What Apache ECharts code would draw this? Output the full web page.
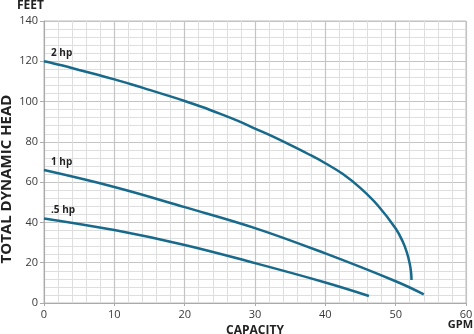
<!DOCTYPE html>
<html>
<head>
<meta charset="utf-8">
<script src="https://cdn.jsdelivr.net/npm/echarts@6/dist/echarts.min.js"></script>
<style>
  html, body { margin: 0; padding: 0; background: #fff; }
  #chart { width: 474px; height: 334px; }
</style>
</head>
<body>
<div id="chart"></div>
<script>
// Pump performance curves: head (ft) vs capacity (GPM)
const hp2Flow = [0, 2.5, 5, 7.5, 10, 12.5, 15, 17.5, 20, 22.5, 25, 27.5, 30, 32.5, 35, 37.5, 40,
                 42.5, 45, 47.5, 50, 51, 51.6, 52, 52.2, 52.25];
const hp2Head = [120, 118, 115.7, 113.4, 111, 108.5, 105.8, 103.1, 100.3, 97.3, 94, 90.5, 86.6, 82.7, 78.5, 74.1, 69.4,
                 64, 57, 48.3, 37, 30.5, 25, 19.5, 15, 11.4];

const hp1Flow = [0, 10, 20, 30, 40, 50, 54];
const hp1Head = [66, 57.6, 47.6, 37.2, 24.6, 10.8, 4.3];

const hpHalfFlow = [0, 10, 20, 30, 40, 46.2];
const hpHalfHead = [42, 36.2, 28.8, 19.8, 10.2, 3.5];

const seriesNames = ['2 hp', '1 hp', '.5 hp'];

const FONT = '"Open Sans", sans-serif';
const LINE_COLOR = '#176a8c';

function toPoints(xs, ys, name) {
  return xs.map((x, i) => {
    const item = { value: [x, ys[i]] };
    if (i === 0) {
      item.label = {
        show: true,
        formatter: name,
        position: [7, -13],
        fontFamily: FONT,
        fontWeight: 'bold',
        fontSize: 10,
        color: '#222'
      };
    }
    return item;
  });
}

function curve(name, xs, ys) {
  return {
    name: name,
    type: 'line',
    smooth: 0.4,
    symbol: 'circle',
    symbolSize: 0,
    lineStyle: { color: LINE_COLOR, width: 2.5 },
    itemStyle: { color: LINE_COLOR },
    emphasis: { disabled: true },
    data: toPoints(xs, ys, name)
  };
}

const chart = echarts.init(document.getElementById('chart'));
chart.setOption({
  animation: false,
  grid: {
    left: 44, right: 8, top: 21, bottom: 31,
    outerBoundsMode: 'none', containLabel: false,
    show: true, borderColor: '#bdbdbd', borderWidth: 1
  },
  xAxis: {
    type: 'value', min: 0, max: 60, interval: 10,
    axisLine: { show: true, lineStyle: { color: '#aaa' } },
    axisTick: { show: true, length: 3, lineStyle: { color: '#aaa' } },
    axisLabel: { color: '#3a3a3a', fontFamily: FONT, fontSize: 11, margin: 6 },
    splitLine: { show: true, lineStyle: { color: '#c4c4c4', width: 1.2 } },
    minorTick: { show: false, splitNumber: 5 },
    minorSplitLine: { show: true, lineStyle: { color: '#dedede', width: 1 } },
    name: 'CAPACITY', nameLocation: 'middle', nameGap: 21,
    nameTextStyle: { color: '#222', fontFamily: FONT, fontWeight: 'bold', fontSize: 12 }
  },
  yAxis: {
    type: 'value', min: 0, max: 140, interval: 20,
    axisLine: { show: true, lineStyle: { color: '#aaa' } },
    axisTick: { show: true, length: 4, lineStyle: { color: '#aaa' } },
    axisLabel: { color: '#3a3a3a', fontFamily: FONT, fontSize: 11, margin: 6 },
    splitLine: { show: true, lineStyle: { color: '#c4c4c4', width: 1.2 } },
    minorTick: { show: false, splitNumber: 5 },
    minorSplitLine: { show: true, lineStyle: { color: '#dedede', width: 1 } }
  },
  graphic: [
    { type: 'text', left: 17, top: 0,
      style: { text: 'FEET', font: 'bold 12px ' + FONT, fill: '#222' } },
    { type: 'text', right: 1, top: 319,
      style: { text: 'GPM', font: 'bold 11px ' + FONT, fill: '#222' } },
    { type: 'text', x: 7, y: 179, rotation: Math.PI / 2,
      style: { text: 'TOTAL DYNAMIC HEAD', font: 'bold 15px ' + FONT, fill: '#222',
               align: 'center', verticalAlign: 'middle' } }
  ],
  series: [
    curve(seriesNames[0], hp2Flow, hp2Head),
    curve(seriesNames[1], hp1Flow, hp1Head),
    curve(seriesNames[2], hpHalfFlow, hpHalfHead)
  ]
});
</script>
</body>
</html>
